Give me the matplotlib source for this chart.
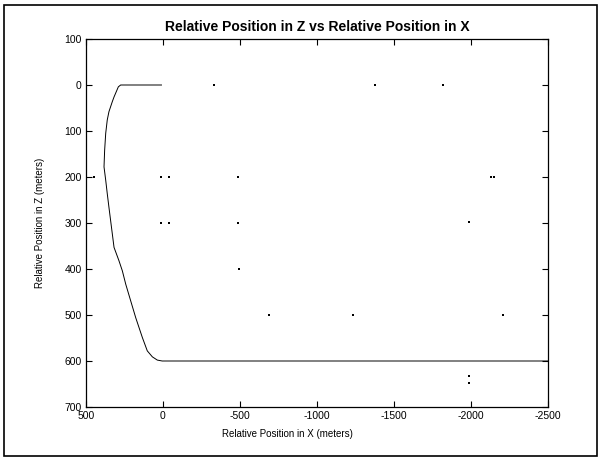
import numpy as np
import matplotlib
matplotlib.use("Agg")
import matplotlib.pyplot as plt
from matplotlib.patches import Rectangle

plt.rcParams['font.family'] = ['Liberation Sans', 'DejaVu Sans']
plt.rcParams['axes.unicode_minus'] = False

# Trajectory: relative X and Z positions (meters)
x_path = [10, 275, 290, 318, 329, 351, 362, 372, 379, 383, 372, 362, 351, 340,
          329, 318, 286, 264, 242, 210, 177, 134, 102, 69, 37, 5, -2500]
z_path = [0, 0, 4, 26, 36, 58, 76, 105, 142, 178, 207, 236, 266, 295,
          324, 353, 382, 404, 433, 469, 506, 549, 578, 591, 598, 600, 600]

# Isolated plotted points
x_pts = [-331, -1377, -1818, 448, 13, -39, -487, 13, -39, -487, -494,
         -2130, -2150, -1987, -688, -1234, -2208, -1987, -1987]
z_pts = [0, 0, 0, 199, 199, 199, 201, 301, 301, 300, 401,
         199, 199, 297, 500, 500, 500, 632, 647]

x_ticks = [500, 0, -500, -1000, -1500, -2000, -2500]
z_ticks = [-100, 0, 100, 200, 300, 400, 500, 600, 700]
z_tick_labels = ['100', '0', '100', '200', '300', '400', '500', '600', '700']

fig = plt.figure(figsize=(6, 4.58), dpi=100)
ax = fig.add_axes([86/600, 1 - 407/458, 462/600, 368/458])

ax.plot(x_path, z_path, color='black', linewidth=0.7)
ax.plot(x_pts, z_pts, linestyle='none', marker='s', markersize=1.6,
        color='black', markeredgewidth=0)

ax.set_xlim(500, -2500)
ax.set_ylim(700, -100)
ax.set_xticks(x_ticks)
ax.set_yticks(z_ticks)
ax.set_yticklabels(z_tick_labels)
ax.tick_params(direction='in', length=4, width=0.8, top=True, right=True,
               labelsize=7.5, pad=3)
for s in ax.spines.values():
    s.set_linewidth(0.9)

ax.set_title('Relative Position in Z vs Relative Position in X',
             fontsize=10, fontweight='bold', pad=6)
ax.set_xlabel('Relative Position in X (meters)', fontsize=7)
ax.set_ylabel('Relative Position in Z (meters)', fontsize=7)
ax.xaxis.set_label_coords(0.435, -0.06)
ax.yaxis.set_label_coords(-0.089, 0.5)

# frame around the whole figure
fig.patches.append(Rectangle((4/600, 2/458), 593/600, 451/458, fill=False,
                             edgecolor='black', linewidth=1.2,
                             transform=fig.transFigure, figure=fig))

fig.savefig('out.png', dpi=100)
